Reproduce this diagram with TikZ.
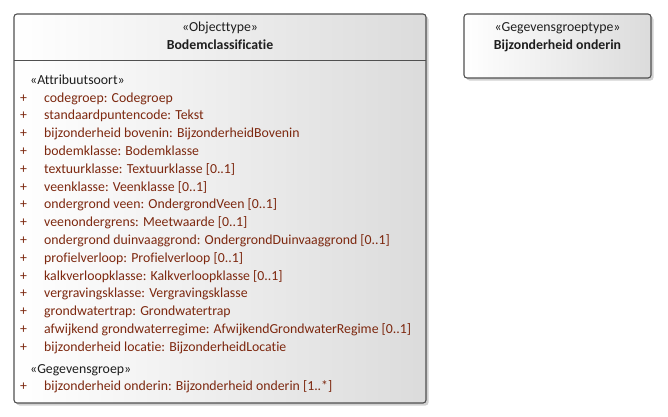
\documentclass[tikz,border=0pt]{standalone}
\usepackage{fontspec}
\setmainfont[Ligatures={NoCommon}]{Carlito}
\usetikzlibrary{shadows}
\definecolor{attr}{RGB}{125,40,15}
\definecolor{frame}{RGB}{80,80,80}
\definecolor{txt}{RGB}{30,30,30}
\newcommand{\fsz}{\fontsize{13.8}{15}\selectfont}
\tikzset{
  umlbox/.style={draw=frame, line width=1.1pt, rounded corners=3pt, left color=white, right color=black!14,
     drop shadow={shadow xshift=2.5pt, shadow yshift=-2.5pt, fill=black!30, opacity=0.6}},
  lbl/.style={inner sep=0pt, anchor=base, font=\fsz, text=txt},
  attrtxt/.style={inner sep=0pt, anchor=base west, font=\fsz, text=attr},
  stereo/.style={inner sep=0pt, anchor=base west, font=\fsz, text=txt}
}
\begin{document}
\begin{tikzpicture}[x=1pt,y=-1pt]
\useasboundingbox (0,0) rectangle (668,416);
% main class box
\path[umlbox] (14,14) rectangle (426,403);
\draw[frame, line width=1pt] (14,60) -- (426,60);
\node[lbl] (st1) at (220,31) {«Objecttype»};
\node[lbl, font=\fsz\bfseries] (nm1) at (220,49) {Bodemclassificatie};
\node[stereo] (sa) at (30,84) {«Attribuutsoort»};
\foreach \t [count=\i from 0] in {
 {codegroep: Codegroep},
 {standaardpuntencode: Tekst},
 {bijzonderheid bovenin: BijzonderheidBovenin},
 {bodemklasse: Bodemklasse},
 {textuurklasse: Textuurklasse [0..1]},
 {veenklasse: Veenklasse [0..1]},
 {ondergrond veen: OndergrondVeen [0..1]},
 {veenondergrens: Meetwaarde [0..1]},
 {ondergrond duinvaaggrond: OndergrondDuinvaaggrond [0..1]},
 {profielverloop: Profielverloop [0..1]},
 {kalkverloopklasse: Kalkverloopklasse [0..1]},
 {vergravingsklasse: Vergravingsklasse},
 {grondwatertrap: Grondwatertrap},
 {afwijkend grondwaterregime: AfwijkendGrondwaterRegime [0..1]},
 {bijzonderheid locatie: BijzonderheidLocatie}}{
  \node[attrtxt] (p\i) at (20,{102+17.8*\i}) {+};
  \node[attrtxt] (a\i) at (44,{102+17.8*\i}) {\t};
}
\node[stereo] (sg) at (30,373) {«Gegevensgroep»};
\node[attrtxt] (pg) at (20,390) {+};
\node[attrtxt] (ag) at (44,390) {bijzonderheid onderin: Bijzonderheid onderin [1..*]};
% second box
\path[umlbox] (464,14) rectangle (651,78);
\node[lbl] (st2) at (557.5,31) {«Gegevensgroeptype»};
\node[lbl, font=\fsz\bfseries] (nm2) at (557.5,49) {Bijzonderheid onderin};
\end{tikzpicture}
\end{document}
